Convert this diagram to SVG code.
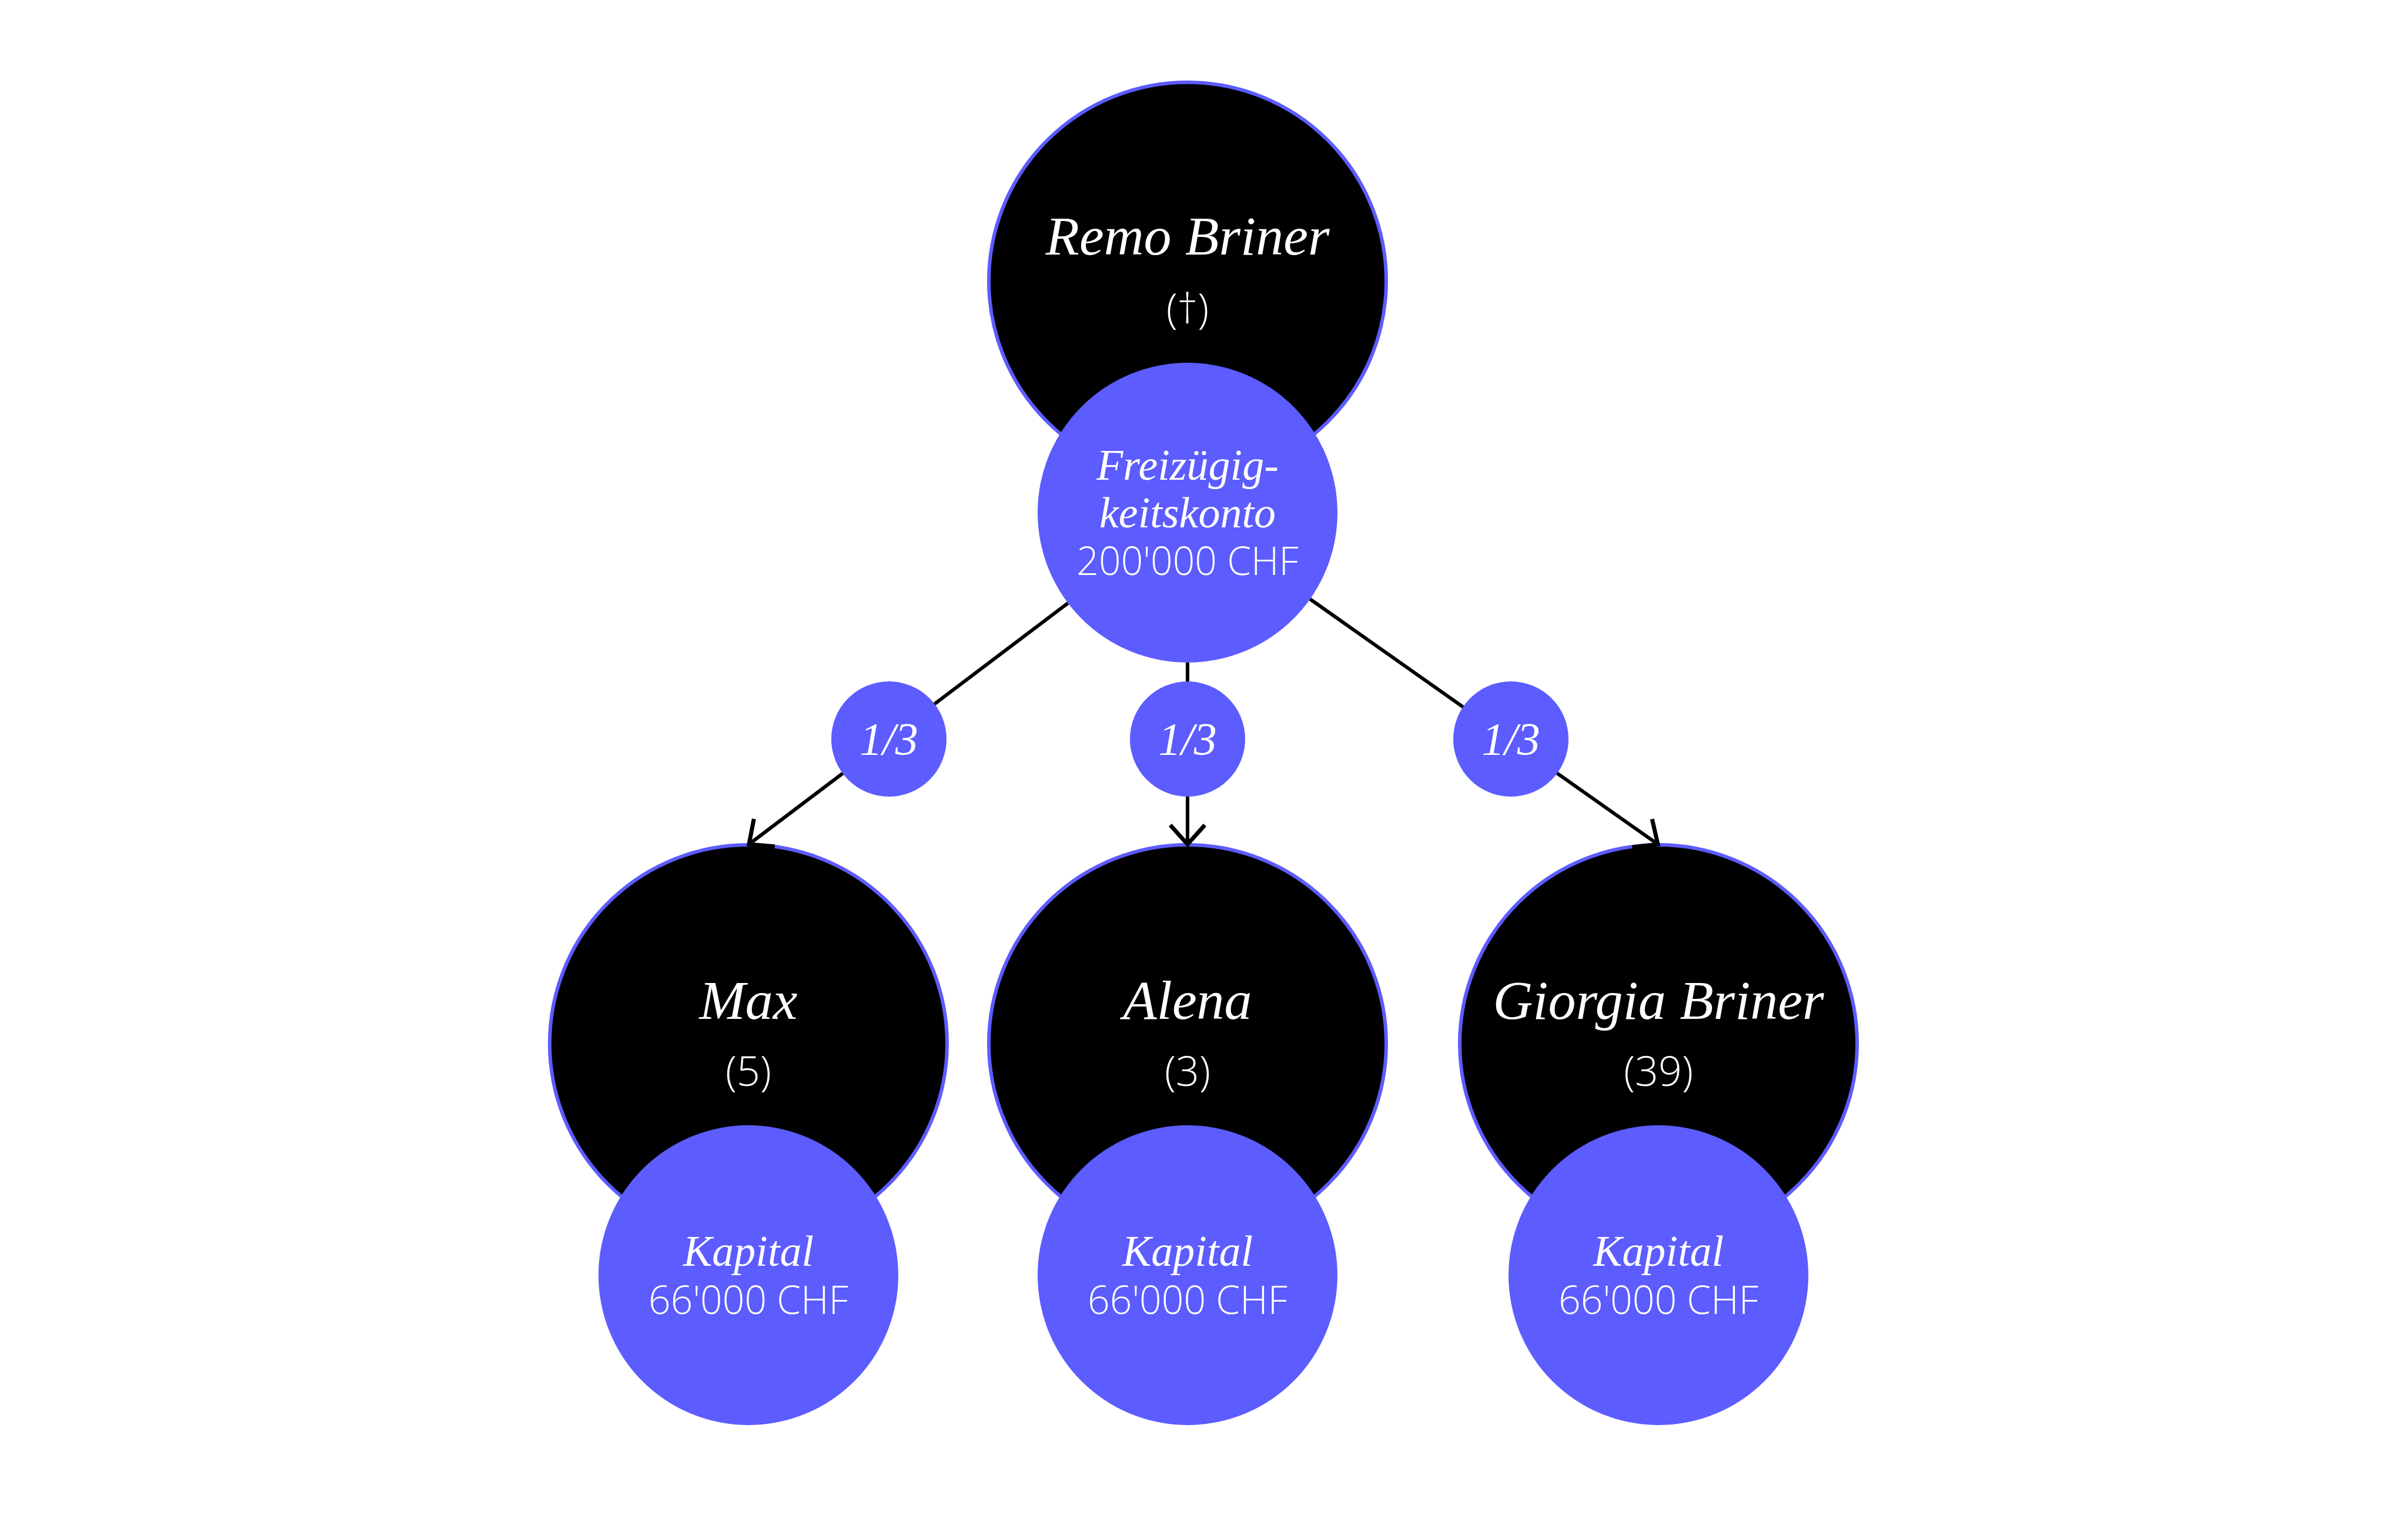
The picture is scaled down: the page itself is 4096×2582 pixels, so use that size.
<svg xmlns="http://www.w3.org/2000/svg" width="4096" height="2582" viewBox="0 0 4096 2582">
<style>
.person{fill:#000;stroke:#5c5cff;stroke-width:6}
.blue{fill:#5c5cff}
.it{font-family:"Liberation Serif",serif;font-style:italic;fill:#fff;text-anchor:middle}
.sans{font-family:"Open Sans","Liberation Sans",sans-serif;font-weight:300;fill:#fff;text-anchor:middle;font-size:66px}
.age{font-size:70px}
.name{font-size:94px}
.lbl{font-size:74px}
.frac{font-size:78px}
.conn{stroke:#000;stroke-width:6;fill:none;marker-end:url(#arr)}
</style>
<defs>
<marker id="arr" markerUnits="userSpaceOnUse" markerWidth="80" markerHeight="80" viewBox="-40 -40 80 80" refX="0" refY="0" orient="auto" overflow="visible">
<path d="M -32.7,-29.4 L 0,0 L -32.7,29.4" fill="none" stroke="#000" stroke-width="7"/>
</marker>
</defs>
<rect width="4096" height="2582" fill="#fff"/>
<g id="remo">
<circle class="person" cx="2020" cy="478" r="338"/>
<text class="it name" x="2020" y="433">Remo Briner</text>
<text class="sans age" x="2020" y="550">(†)</text>
</g>
<g id="konto">
<circle class="blue" cx="2020" cy="872" r="255"/>
<text class="it lbl" x="2020" y="816">Freizügig-</text>
<text class="it lbl" x="2020" y="897">keitskonto</text>
<text class="sans" x="2020" y="978">200'000 CHF</text>
</g>
<g id="max">
<circle class="person" cx="1273" cy="1775" r="338"/>
<text class="it name" x="1273" y="1733">Max</text>
<text class="sans age" x="1273" y="1847">(5)</text>
</g>
<g id="max-kapital">
<circle class="blue" cx="1273" cy="2169" r="255"/>
<text class="it lbl" x="1273" y="2153">Kapital</text>
<text class="sans" x="1273" y="2235">66'000 CHF</text>
</g>
<g id="alena">
<circle class="person" cx="2020" cy="1775" r="338"/>
<text class="it name" x="2020" y="1733">Alena</text>
<text class="sans age" x="2020" y="1847">(3)</text>
</g>
<g id="alena-kapital">
<circle class="blue" cx="2020" cy="2169" r="255"/>
<text class="it lbl" x="2020" y="2153">Kapital</text>
<text class="sans" x="2020" y="2235">66'000 CHF</text>
</g>
<g id="giorgia">
<circle class="person" cx="2821" cy="1775" r="338"/>
<text class="it name" x="2821" y="1733">Giorgia Briner</text>
<text class="sans age" x="2821" y="1847">(39)</text>
</g>
<g id="giorgia-kapital">
<circle class="blue" cx="2821" cy="2169" r="255"/>
<text class="it lbl" x="2821" y="2153">Kapital</text>
<text class="sans" x="2821" y="2235">66'000 CHF</text>
</g>
<g id="connectors">
<line class="conn" x1="1816.6" y1="1025.8" x2="1274" y2="1436"/>
<line class="conn" x1="2020" y1="1127" x2="2020" y2="1436"/>
<line class="conn" x1="2228.4" y1="1019" x2="2820" y2="1436"/>
</g>
<g id="share-max">
<circle class="blue" cx="1512" cy="1257" r="98"/>
<text class="it frac" x="1512" y="1283">1/3</text>
</g>
<g id="share-alena">
<circle class="blue" cx="2020" cy="1257" r="98"/>
<text class="it frac" x="2020" y="1283">1/3</text>
</g>
<g id="share-giorgia">
<circle class="blue" cx="2570" cy="1257" r="98"/>
<text class="it frac" x="2570" y="1283">1/3</text>
</g>
</svg>
